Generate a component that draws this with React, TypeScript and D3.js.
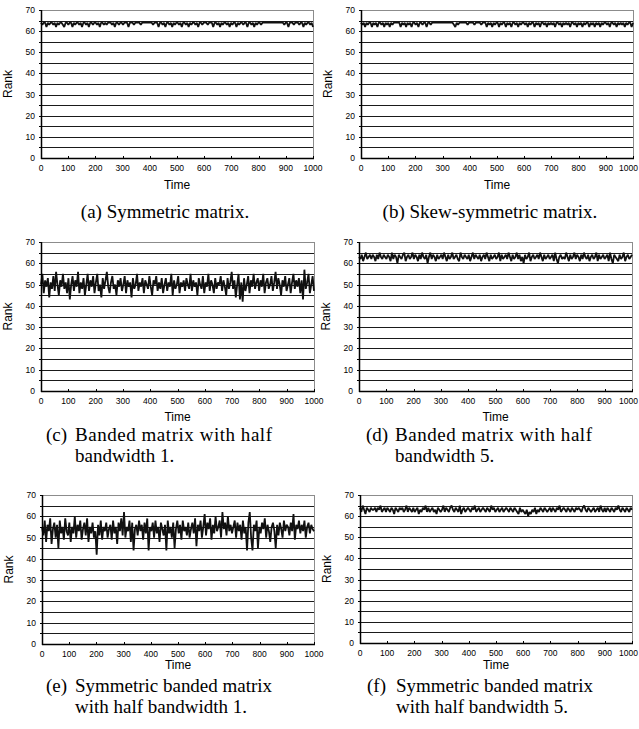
import React from "react";
import * as d3 from "d3";

// rank over time, one sample every 5 time steps
const rankA = [
  64,63,64,64,62,64,63,64,64,63, 64,62,64,63,64,64,63,62,64,64,
  63,64,64,62,64,63,64,64,63,64, 62,64,64,63,64,62,64,64,63,64,
  64,63,64,62,64,64,63,64,63,64, 64,64,63,64,62,64,64,63,64,64,
  63,64,64,64,62,64,64,64,63,64, 64,64,64,63,64,64,64,64,64,64,
  64,64,63,64,64,64,62,64,64,63, 64,62,64,64,63,64,62,64,63,64,
  64,63,64,62,64,64,63,64,62,64, 63,64,64,63,64,62,64,64,63,64,
  64,64,63,64,64,64,62,64,64,63, 64,62,64,63,64,64,63,64,62,64,
  63,64,64,62,64,63,64,64,63,64, 64,62,64,64,63,64,62,64,63,64,
  64,63,64,64,64,64,64,64,64,64, 64,64,64,64,64,64,64,64,63,64,
  64,62,64,64,64,63,64,64,64,63, 64,64,62,64,63,64,64,63,64,62,
];
const rankB = [
  64,63,64,62,64,63,64,64,62,64, 63,64,62,64,64,63,64,62,64,63,
  64,62,64,63,64,64,64,64,64,62, 64,63,64,62,64,63,64,62,64,64,
  63,64,62,64,64,63,64,64,62,64, 64,63,64,64,64,64,64,64,64,64,
  64,64,64,64,64,64,64,64,63,62, 64,63,64,64,64,64,64,64,63,64,
  64,64,64,63,64,64,64,64,63,64, 64,64,62,64,63,64,62,64,63,64,
  64,62,64,63,64,64,62,64,63,64, 62,64,64,63,64,62,64,63,64,64,
  63,64,62,64,63,64,64,62,64,63, 64,62,64,64,63,64,62,64,63,64,
  63,64,62,64,64,63,64,62,64,63, 64,63,64,62,64,64,63,64,62,64,
  63,64,62,64,63,64,64,62,64,63, 64,62,64,63,64,62,64,63,64,64,
  63,64,62,64,64,63,64,62,64,63, 64,63,64,62,64,63,64,64,62,64,
];
const rankC = [
  50,55,46,52,49,53,44,51,48,54, 47,56,50,45,52,49,55,48,51,46,
  53,43,50,54,47,52,49,56,46,51, 48,53,45,50,55,47,52,49,54,46,
  51,55,47,50,44,53,48,52,56,49, 46,51,54,48,50,45,52,49,53,47,
  50,54,46,52,49,51,44,53,48,50, 55,47,51,49,53,46,52,50,48,54,
  49,45,52,50,54,47,51,48,53,46, 50,53,47,51,49,55,45,52,48,50,
  54,46,51,49,52,47,53,50,48,55, 47,52,49,51,45,53,50,48,54,46,
  51,49,55,47,52,50,46,53,48,51, 50,54,47,52,49,45,53,48,51,56,
  48,52,44,50,55,43,51,42,53,47, 50,54,46,52,49,55,48,51,53,47,
  52,49,55,46,51,53,48,50,54,47, 51,56,48,53,50,45,52,49,54,47,
  50,53,46,51,55,48,52,49,53,46, 52,43,57,48,51,55,46,50,54,47,
];
const rankD = [
  63,62,64,61,63,65,62,63,64,62, 64,63,61,64,62,65,63,62,64,63,
  62,64,63,61,65,62,64,63,60,64, 63,62,64,65,61,63,64,62,63,65,
  62,64,63,61,64,62,65,63,62,64, 60,63,65,62,64,63,61,64,62,63,
  64,62,65,63,61,64,62,63,65,62, 63,64,62,61,65,63,62,64,63,62,
  64,61,63,65,62,64,63,62,64,61, 63,64,62,65,63,61,64,62,63,64,
  62,63,65,61,64,62,63,64,62,65, 63,61,64,62,63,65,62,64,61,63,
  60,64,62,63,65,61,63,64,62,63, 64,62,65,63,61,64,62,63,64,62,
  63,64,61,65,62,60,63,64,62,63, 62,65,63,61,64,62,63,65,62,64,
  63,61,64,62,65,63,62,64,61,63, 64,62,63,65,61,64,62,63,64,62,
  63,64,61,65,62,60,64,63,62,61, 64,62,63,65,61,63,64,62,63,64,
];
const rankE = [
  55,51,58,48,56,53,59,47,54,57, 50,56,45,58,52,55,49,59,53,51,
  57,48,55,52,60,50,56,53,58,49, 54,57,51,59,48,55,52,57,50,53,
  42,56,51,58,49,55,53,57,50,54, 56,49,58,52,55,47,57,53,59,51,
  62,50,55,53,58,48,57,44,54,56, 51,58,53,56,49,57,52,59,44,55,
  53,57,50,58,52,55,48,57,54,51, 56,44,58,52,55,50,57,45,54,58,
  52,56,49,58,53,55,51,57,50,54, 57,52,59,46,56,53,58,50,55,61,
  51,57,54,59,49,56,52,60,53,55, 58,50,62,54,57,51,60,53,56,52,
  55,58,50,57,53,56,49,58,52,55, 44,57,62,50,44,56,53,58,45,55,
  52,57,54,59,50,56,53,48,55,57, 53,45,56,51,57,54,50,58,53,56,
  55,51,57,53,61,49,56,54,58,52, 56,53,58,50,55,57,52,56,54,53,
];
const rankF = [
  64,62,65,63,61,64,63,62,64,63, 63,64,62,64,63,65,62,63,64,62,
  64,63,62,64,63,61,64,63,62,64, 63,64,62,63,65,62,64,63,62,64,
  62,63,64,61,63,62,64,63,65,62, 64,62,63,64,62,63,61,64,63,62,
  63,65,62,64,63,62,64,65,63,62, 64,63,62,65,61,63,64,62,63,64,
  63,62,64,63,65,62,63,64,62,63, 64,63,62,64,63,62,65,63,64,62,
  63,64,62,63,64,62,63,64,63,62, 64,63,62,64,63,62,61,64,62,63,
  62,61,63,60,62,61,63,62,64,61, 63,62,64,63,62,64,63,62,63,64,
  62,64,63,62,64,63,65,62,63,64, 63,62,64,63,62,64,63,62,64,63,
  64,63,62,64,65,63,62,64,63,62, 63,64,62,63,64,62,65,63,62,64,
  62,64,63,62,64,63,62,64,63,65, 63,62,64,63,62,64,63,62,64,63,
];

const timeTicks = [0, 100, 200, 300, 400, 500, 600, 700, 800, 900, 1000];
const rankTicks = [0, 10, 20, 30, 40, 50, 60, 70];
const gridRanks = [5, 10, 15, 20, 25, 30, 35, 40, 45, 50, 55, 60, 65];

const captionA = ["(a) Symmetric matrix."];
const captionB = ["(b) Skew-symmetric matrix."];
const captionC = ["(c)", "Banded matrix with half", "bandwidth 1."];
const captionD = ["(d)", "Banded matrix with half", "bandwidth 5."];
const captionE = ["(e)", "Symmetric banded matrix", "with half bandwidth 1."];
const captionF = ["(f)", "Symmetric banded matrix", "with half bandwidth 5."];

const panels = [
  { data: rankA, caption: captionA, l: 41, r: 313, t: 10, b: 158, ty: 31, cx: 165, cy: 218 },
  { data: rankB, caption: captionB, l: 361, r: 633, t: 10, b: 158, ty: 31, cx: 490, cy: 218 },
  { data: rankC, caption: captionC, l: 41, r: 314, t: 242, b: 391, ty: 30, cx: 46, cy: 441 },
  { data: rankD, caption: captionD, l: 359, r: 632, t: 242, b: 391, ty: 30, cx: 366, cy: 441 },
  { data: rankE, caption: captionE, l: 42, r: 314, t: 495, b: 644, ty: 25, cx: 46, cy: 692 },
  { data: rankF, caption: captionF, l: 360, r: 632, t: 495, b: 643, ty: 26, cx: 367, cy: 692 },
];

const sans = "Liberation Sans, Arial, sans-serif";
const serif = "Liberation Serif, Times New Roman, serif";
const capSize = 19;

function Panel({ p }: { p: any }) {
  const x = d3.scaleLinear().domain([0, 1000]).range([p.l, p.r]);
  const y = d3.scaleLinear().domain([0, 70]).range([p.b, p.t]);
  const n = p.data.length;
  const line = d3
    .line<number>()
    .x((d, i) => x((i * 1000) / (n - 1)))
    .y((d) => y(d));
  const py = (r: number) => Math.round(y(r)) + 0.5;

  return (
    <g>
      {gridRanks.map((r) => (
        <line key={r} x1={p.l} x2={p.r} y1={py(r)} y2={py(r)} stroke="#1a1a1a" strokeWidth={1} />
      ))}
      <line x1={p.l} x2={p.r} y1={py(70)} y2={py(70)} stroke="#8c8c8c" />
      <line x1={p.r + 0.5} x2={p.r + 0.5} y1={y(70)} y2={y(0)} stroke="#8c8c8c" />
      <path d={line(p.data) || ""} fill="none" stroke="#111" strokeWidth={1.8} strokeLinejoin="bevel" />
      {/* axes */}
      <line x1={p.l + 0.5} x2={p.l + 0.5} y1={y(70)} y2={y(0) + 1} stroke="#000" strokeWidth={1.5} />
      <line x1={p.l} x2={p.r + 1} y1={py(0)} y2={py(0)} stroke="#000" strokeWidth={1.5} />
      {[...gridRanks, 70].map((r) => (
        <line key={"t" + r} x1={p.l - 2} x2={p.l} y1={py(r)} y2={py(r)} stroke="#000" />
      ))}
      {timeTicks.map((t) => (
        <line key={"x" + t} x1={Math.round(x(t)) + 0.5} x2={Math.round(x(t)) + 0.5} y1={y(0) - 2} y2={y(0)} stroke="#000" />
      ))}
      {rankTicks.map((r) => (
        <text key={"yl" + r} x={p.l - 6} y={y(r) + 3} textAnchor="end" fontFamily={sans} fontSize={8.5} fill="#000">
          {r}
        </text>
      ))}
      {timeTicks.map((t) => {
        const over = x(t) + 9 > 639;
        return (
          <text key={"xl" + t} x={over ? 638 : x(t)} y={p.b + 13} textAnchor={over ? "end" : "middle"} fontFamily={sans} fontSize={8.5} fill="#000">
            {t}
          </text>
        );
      })}
      <text x={(p.l + p.r) / 2} y={p.b + p.ty} textAnchor="middle" fontFamily={sans} fontSize={12}>
        Time
      </text>
      <text transform={`translate(${p.l - 29},${(p.t + p.b) / 2}) rotate(-90)`} textAnchor="middle" fontFamily={sans} fontSize={12}>
        Rank
      </text>
      {p.caption.length === 1 ? (
        <text x={p.cx} y={p.cy} textAnchor="middle" fontFamily={serif} fontSize={capSize}>
          {p.caption[0]}
        </text>
      ) : (
        <>
          <text x={p.cx} y={p.cy} fontFamily={serif} fontSize={capSize}>
            {p.caption[0]}
          </text>
          <text x={p.cx + 29} y={p.cy} fontFamily={serif} fontSize={capSize} textLength={197} lengthAdjust="spacing">
            {p.caption[1]}
          </text>
          <text x={p.cx + 29} y={p.cy + 21} fontFamily={serif} fontSize={capSize}>
            {p.caption[2]}
          </text>
        </>
      )}
    </g>
  );
}

export default function App() {
  return (
    <svg width={639} height={729} style={{ position: "absolute", left: 0, top: 0, background: "#fff" }}>
      <rect width={639} height={729} fill="#fff" />
      {panels.map((p, i) => (
        <Panel key={i} p={p} />
      ))}
    </svg>
  );
}
